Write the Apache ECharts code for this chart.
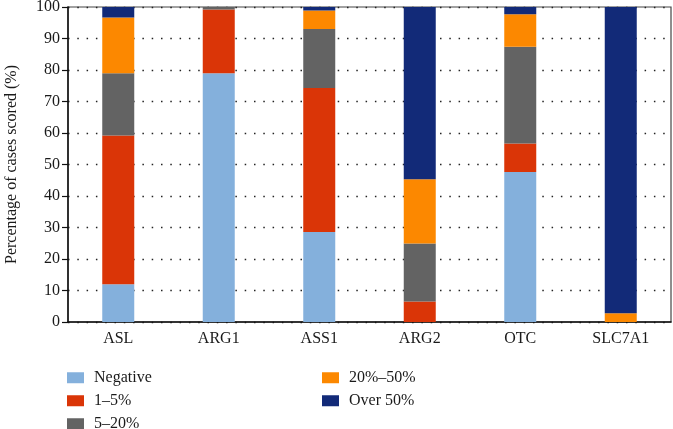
<!DOCTYPE html>
<html>
<head>
<meta charset="utf-8">
<script src="https://cdn.jsdelivr.net/npm/echarts@6/dist/echarts.min.js"></script>
<style>html,body{margin:0;padding:0;background:#fff;}#c{width:673px;height:429px;}</style>
</head>
<body>
<div id="c"></div>
<script>
const categories = ['ASL', 'ARG1', 'ASS1', 'ARG2', 'OTC', 'SLC7A1'];
const negative = [12.0, 79.0, 28.6, 0, 47.6, 0];
const low = [47.2, 20.2, 45.7, 6.5, 9.1, 0];
const mid = [19.8, 0.8, 18.7, 18.4, 30.7, 0];
const high = [17.7, 0, 5.9, 20.4, 10.3, 2.8];
const over = [3.3, 0, 1.1, 54.7, 2.3, 97.2];
const seriesNames = ['Negative', '1\u20135%', '5\u201320%', '20%\u201350%', 'Over 50%'];
const yTicks = [0, 10, 20, 30, 40, 50, 60, 70, 80, 90, 100];

const colors = ['#84B0DC', '#DA3507', '#636363', '#FC8800', '#122A78'];
const font = 'Liberation Serif';
const values = [negative, low, mid, high, over];

const legendBase = {
  orient: 'vertical', top: 369, height: 90, padding: 0,
  itemWidth: 17, itemHeight: 11, itemGap: 5.5,
  icon: 'rect',
  textStyle: { fontFamily: font, fontSize: 16, lineHeight: 17.5, color: '#1a1a1a', padding: [0, 0, 0, 5] }
};

const chart = echarts.init(document.getElementById('c'));
chart.setOption({
  animation: false,
  textStyle: { fontFamily: font },
  grid: {
    left: 68, right: 2, top: 7, bottom: 107, show: true,
    borderColor: '#444', borderWidth: 1.2,
    containLabel: false, outerBoundsMode: 'none'
  },
  legend: [
    Object.assign({}, legendBase, { data: seriesNames.slice(0, 3), left: 67 }),
    Object.assign({}, legendBase, { data: seriesNames.slice(3), left: 322 })
  ],
  xAxis: {
    type: 'category',
    data: categories,
    axisLine: { lineStyle: { color: '#111', width: 1.5 } },
    axisTick: { alignWithLabel: true, length: 6, lineStyle: { color: '#111', width: 1.2 } },
    axisLabel: { fontFamily: font, fontSize: 16, color: '#1a1a1a', margin: 9 }
  },
  yAxis: {
    type: 'value',
    min: 0, max: 100, interval: 10,
    name: 'Percentage of cases scored (%)',
    nameLocation: 'middle', nameGap: 48,
    nameTextStyle: { fontFamily: font, fontSize: 16, color: '#1a1a1a' },
    axisLine: { show: true, lineStyle: { color: '#111', width: 1.5 } },
    axisTick: { show: true, length: 6, lineStyle: { color: '#111', width: 1.2 } },
    axisLabel: {
      fontFamily: font, fontSize: 16, color: '#1a1a1a', margin: 8,
      formatter: v => (yTicks.indexOf(v) >= 0 ? String(v) : '')
    },
    splitLine: {
      show: true,
      lineStyle: { color: '#222', width: 1.4, type: [1.5, 7.8] }
    }
  },
  series: seriesNames.map((n, i) => ({
    name: n,
    type: 'bar',
    stack: 'total',
    barWidth: 32,
    data: values[i],
    itemStyle: { color: colors[i] }
  }))
});
</script>
</body>
</html>
